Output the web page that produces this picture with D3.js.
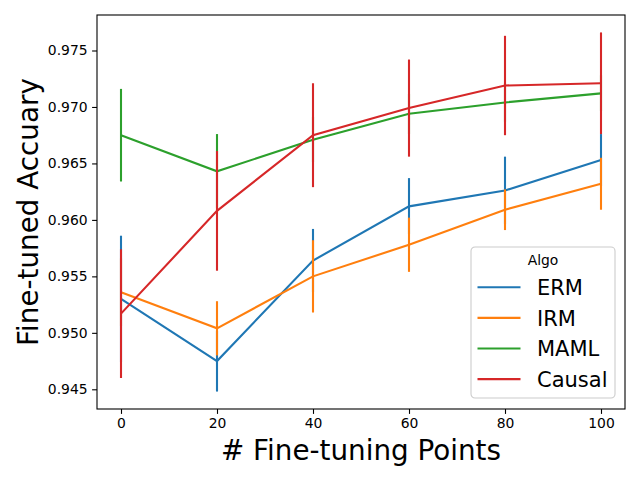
<!DOCTYPE html>
<html>
<head>
<meta charset="utf-8">
<script src="https://cdn.jsdelivr.net/npm/d3@7"></script>
<style>
  body { margin: 0; background: #fff; }
  svg { font-family: "DejaVu Sans", sans-serif; }
</style>
</head>
<body>
<div id="chart"></div>
<script>
// data
const points = [0, 20, 40, 60, 80, 100];
const algos = ["ERM", "IRM", "MAML", "Causal"];
const ermMean = [0.9530, 0.9475, 0.9564, 0.9612, 0.9626, 0.9653];
const ermErr = [0.0056, 0.0027, 0.0028, 0.0025, 0.0030, 0.0023];
const irmMean = [0.9536, 0.9504, 0.9550, 0.9578, 0.9609, 0.9632];
const irmErr = [0.0030, 0.0024, 0.0032, 0.0024, 0.0018, 0.0023];
const mamlMean = [0.9675, 0.9643, 0.9671, 0.9694, 0.9704, 0.9712];
const mamlErr = [0.0041, 0.0033, 0.0020, 0.0018, 0.0017, 0.0016];
const causalMean = [0.9517, 0.9608, 0.9675, 0.9699, 0.9719, 0.9721];
const causalErr = [0.0057, 0.0053, 0.0046, 0.0043, 0.0044, 0.0045];
const xTicks = [0, 20, 40, 60, 80, 100];
const yTicks = [0.945, 0.950, 0.955, 0.960, 0.965, 0.970, 0.975];

const colors = ["#1f77b4", "#ff7f0e", "#2ca02c", "#d62728"];
const means = [ermMean, irmMean, mamlMean, causalMean];
const errs = [ermErr, irmErr, mamlErr, causalErr];

const series = algos.map((name, i) => ({
    name: name,
    color: colors[i],
    values: points.map((p, j) => ({ x: p, y: means[i][j], e: errs[i][j] }))
}));

const W = 640, H = 480;
const margin = { top: 15, right: 15, bottom: 71, left: 97 };
const width = W - margin.left - margin.right;
const height = H - margin.top - margin.bottom;

const svg = d3.select("#chart").append("svg")
    .attr("width", W)
    .attr("height", H);

const g = svg.append("g")
    .attr("transform", "translate(" + margin.left + "," + margin.top + ")");

const x = d3.scaleLinear().domain([-5, 105]).range([0, width]);
const y = d3.scaleLinear().domain([0.943256, 0.978143]).range([height, 0]);

const line = d3.line()
    .x(d => x(d.x))
    .y(d => y(d.y));

// lines + error bars, one series after the other
series.forEach(s => {
    g.append("path")
        .datum(s.values)
        .attr("fill", "none")
        .attr("stroke", s.color)
        .attr("stroke-width", 2.1)
        .attr("d", line);

    g.selectAll(null)
        .data(s.values)
        .enter().append("line")
        .attr("x1", d => x(d.x))
        .attr("x2", d => x(d.x))
        .attr("y1", d => y(d.y - d.e))
        .attr("y2", d => y(d.y + d.e))
        .attr("stroke", s.color)
        .attr("stroke-width", 2.1);
});

// axes
const xAxis = d3.axisBottom(x).tickValues(xTicks).tickSize(4.9).tickPadding(4).tickFormat(d3.format("d"));
const yAxis = d3.axisLeft(y).tickValues(yTicks).tickSize(4.9).tickPadding(4.5).tickFormat(d3.format(".3f"));

const gx = g.append("g")
    .attr("transform", "translate(0," + height + ")")
    .call(xAxis);
const gy = g.append("g").call(yAxis);

[gx, gy].forEach(a => {
    a.select(".domain").remove();
    a.selectAll(".tick line").attr("stroke", "#000").attr("stroke-width", 1.1);
    a.selectAll(".tick text")
        .attr("fill", "#000")
        .style("font-size", "13.9px")
        .style("font-family", "DejaVu Sans");
});

// frame
g.append("rect")
    .attr("width", width)
    .attr("height", height)
    .attr("fill", "none")
    .attr("stroke", "#000")
    .attr("stroke-width", 1.1);

// axis labels
svg.append("text")
    .attr("x", margin.left + width / 2)
    .attr("y", 460)
    .attr("text-anchor", "middle")
    .style("font-size", "27.8px")
    .text("# Fine-tuning Points");

svg.append("text")
    .attr("transform", "translate(37.5," + (margin.top + height / 2) + ") rotate(-90)")
    .attr("text-anchor", "middle")
    .style("font-size", "27.8px")
    .text("Fine-tuned Accuary");

// legend
const legend = svg.append("g").attr("transform", "translate(471,247)");
legend.append("rect")
    .attr("width", 144)
    .attr("height", 151)
    .attr("rx", 4)
    .attr("fill", "#fff")
    .attr("fill-opacity", 0.8)
    .attr("stroke", "#cccccc")
    .attr("stroke-width", 1.1);

legend.append("text")
    .attr("x", 72)
    .attr("y", 18)
    .attr("text-anchor", "middle")
    .style("font-size", "13.9px")
    .text("Algo");

const entry = legend.selectAll(".entry")
    .data(series)
    .enter().append("g")
    .attr("class", "entry")
    .attr("transform", (d, i) => "translate(0," + (40.3 + i * 30.6) + ")");

entry.append("line")
    .attr("x1", 6.5)
    .attr("x2", 49.5)
    .attr("stroke", d => d.color)
    .attr("stroke-width", 2.1);

entry.append("text")
    .attr("x", 66)
    .attr("y", 7.7)
    .style("font-size", "21px")
    .text(d => d.name);
</script>
</body>
</html>
